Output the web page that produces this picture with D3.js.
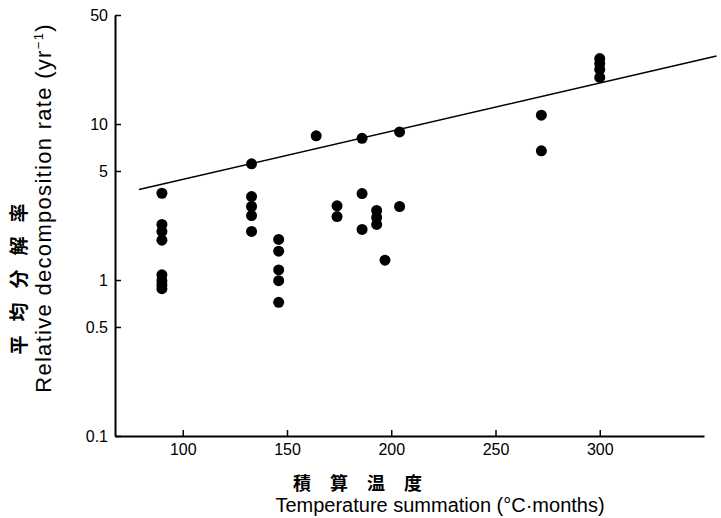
<!DOCTYPE html>
<html>
<head>
<meta charset="utf-8">
<script src="https://cdn.jsdelivr.net/npm/d3@7"></script>
<style>
  body { margin: 0; background: #fff; }
  svg { display: block; }
  .tick text { font-family: "Liberation Sans", Arial, sans-serif; }
</style>
</head>
<body>
<div id="chart"></div>
<script>
// temperature summation (°C·months) and relative decomposition rate (yr^-1)
const tempX = [90, 90, 90, 90, 90, 90, 90, 90,
               133, 133, 133, 133, 133,
               146, 146, 146, 146, 146,
               164,
               174, 174,
               186, 186, 186,
               193, 193, 193,
               197,
               204, 204,
               272, 272,
               300, 300, 300, 300];
const rate = [3.6, 2.27, 2.05, 1.8, 1.08, 0.99, 0.93, 0.88,
              5.56, 3.43, 2.96, 2.59, 2.05,
              1.82, 1.53, 1.16, 0.99, 0.72,
              8.4,
              2.99, 2.55,
              8.1, 3.58, 2.11,
              2.79, 2.52, 2.27,
              1.34,
              8.9, 2.96,
              11.4, 6.73,
              26.3, 24.4, 22.4, 19.9];

// fitted line end points
const fitX = [79, 356];
const fitY = [3.8, 27.3];

const xTicks = [100, 150, 200, 250, 300];
const yTicks = [0.1, 0.5, 1, 5, 10, 50];

const width = 721, height = 518;
const margin = {top: 15, right: 17, bottom: 82, left: 115};

const svg = d3.select("#chart").append("svg")
    .attr("width", width)
    .attr("height", height);

const x = d3.scaleLinear()
    .domain([67.5, 350])
    .range([margin.left, width - margin.right]);

const y = d3.scaleLog()
    .domain([0.1, 50])
    .range([height - margin.bottom, margin.top]);

// x axis
const xAxis = svg.append("g")
    .attr("transform", `translate(0,${height - margin.bottom})`)
    .call(d3.axisBottom(x)
        .tickValues(xTicks)
        .tickFormat(d3.format("d"))
        .tickSizeInner(-6)
        .tickSizeOuter(0)
        .tickPadding(8));
xAxis.select(".domain").attr("stroke-width", 2);
xAxis.selectAll(".tick line").attr("stroke-width", 1.5);
xAxis.selectAll(".tick text").attr("font-size", 16).attr("fill", "#000");

// y axis
const yAxis = svg.append("g")
    .attr("transform", `translate(${margin.left},0)`)
    .call(d3.axisLeft(y)
        .tickValues(yTicks)
        .tickFormat(d => String(d))
        .tickSizeInner(-6)
        .tickSizeOuter(0)
        .tickPadding(7));
yAxis.select(".domain").attr("stroke-width", 2);
yAxis.selectAll(".tick line").attr("stroke-width", 1.5);
yAxis.selectAll(".tick text").attr("font-size", 16).attr("fill", "#000");

// fitted line
const line = d3.line()
    .x((d, i) => x(fitX[i]))
    .y(d => y(d));

svg.append("path")
    .datum(fitY)
    .attr("d", line)
    .attr("fill", "none")
    .attr("stroke", "#000")
    .attr("stroke-width", 1.6);

// points
svg.append("g")
    .selectAll("circle")
    .data(rate)
    .join("circle")
    .attr("cx", (d, i) => x(tempX[i]))
    .attr("cy", d => y(d))
    .attr("r", 5.5)
    .attr("fill", "#000");

// y axis titles
svg.append("text")
    .attr("transform", `translate(26,272) rotate(-90)`)
    .attr("text-anchor", "middle")
    .attr("font-family", "'Noto Sans CJK JP', sans-serif")
    .attr("font-weight", "bold")
    .attr("font-size", 19)
    .attr("letter-spacing", 14)
    .text("平均分解率");

const yTitle = svg.append("text")
    .attr("transform", `translate(51,208) rotate(-90)`)
    .attr("text-anchor", "middle")
    .attr("font-family", "'Liberation Sans', Arial, sans-serif")
    .attr("font-size", 22)
    .attr("letter-spacing", 1.3);
yTitle.append("tspan").text("Relative decomposition rate (yr");
yTitle.append("tspan").attr("font-size", 13).attr("dy", -8).text("−1");
yTitle.append("tspan").attr("dy", 8).text(")");

// x axis titles
svg.append("text")
    .attr("x", 367)
    .attr("y", 490)
    .attr("text-anchor", "middle")
    .attr("font-family", "'Noto Sans CJK JP', sans-serif")
    .attr("font-weight", "bold")
    .attr("font-size", 18)
    .attr("letter-spacing", 19)
    .text("積算温度");

svg.append("text")
    .attr("x", 440)
    .attr("y", 512)
    .attr("text-anchor", "middle")
    .attr("font-family", "'Liberation Sans', Arial, sans-serif")
    .attr("font-size", 20)
    .text("Temperature summation (°C·months)");
</script>
</body>
</html>
